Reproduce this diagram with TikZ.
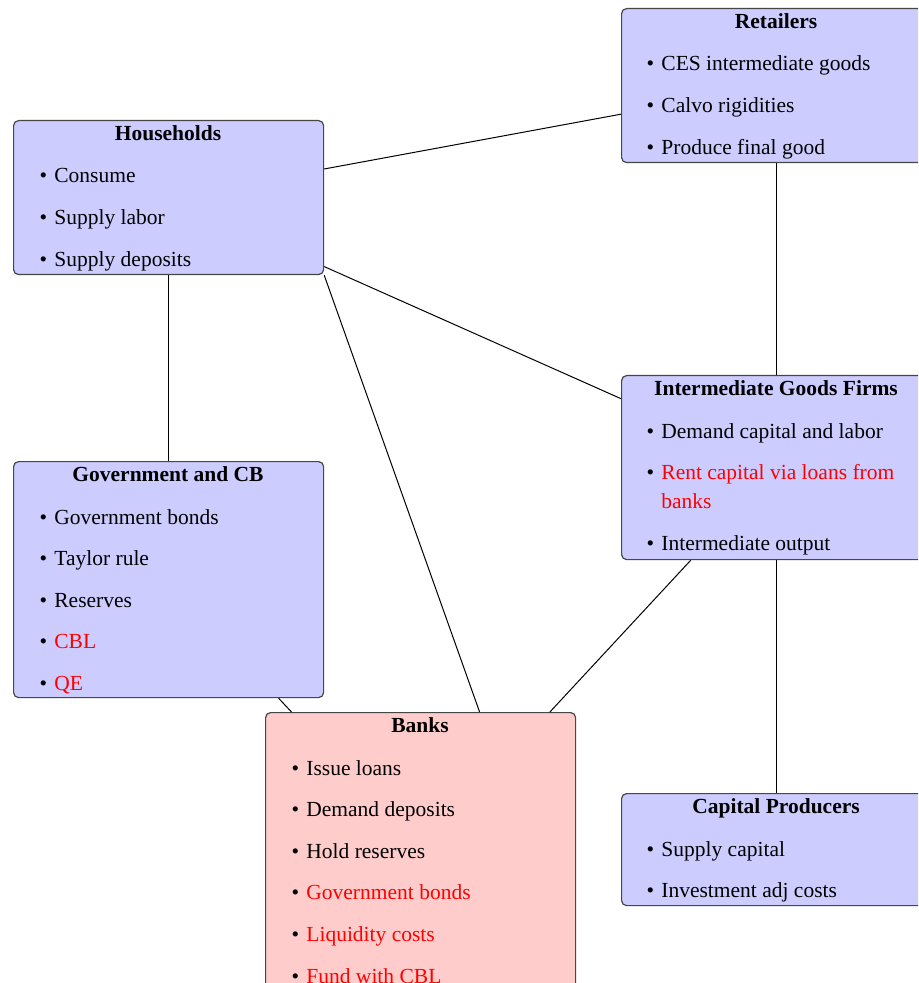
\documentclass[tikz,border=0pt]{standalone}
\usepackage{fontspec}
\setmainfont{Liberation Serif}
\definecolor{boxblue}{RGB}{204,204,255}
\definecolor{boxred}{RGB}{255,204,204}
\definecolor{edgegray}{RGB}{70,70,70}
\newcommand{\bul}{\llap{\textcolor{black}{\textbullet}\hspace{3.6pt}}}
\tikzset{
  box/.style={draw=edgegray, line width=0.6pt, rounded corners=2.5pt, fill=boxblue,
    minimum width=155pt, inner sep=0pt, anchor=north west},
  bankbox/.style={box, fill=boxred},
  ttl/.style={font=\fontsize{10.75}{13}\selectfont\bfseries, inner sep=0pt, anchor=base},
  itm/.style={font=\fontsize{10.75}{13}\selectfont, inner sep=0pt, anchor=base west},
  hot/.style={itm, text=red},
  link/.style={draw=black, line width=0.5pt}
}
\begin{document}
\begin{tikzpicture}[x=0.5pt,y=-0.5pt]
\useasboundingbox (0,0) rectangle (918,983);
\clip (0,0) rectangle (918,983);
% boxes
\node[box, minimum height=77pt] (hh) at (13,120) {};
\node[box, minimum height=77pt] (ret) at (621,8) {};
\node[box, minimum height=118pt] (gov) at (13,461) {};
\node[box, minimum height=92pt] (igf) at (621,375) {};
\node[bankbox, minimum height=139pt] (banks) at (265,712) {};
\node[box, minimum height=56pt] (cap) at (621,793) {};
% connectors
\draw[link] (hh) -- (ret);
\draw[link] (hh) -- (gov);
\draw[link] (hh) -- (igf);
\draw[link] (hh.south east) -- ([xshift=29.5pt]banks.north);
\draw[link] (ret) -- (igf);
\draw[link] (gov) -- (banks);
\draw[link] (igf) -- (banks);
\draw[link] (igf) -- (cap);
% Households
\node[ttl] (hht) at (168,140.5) {Households};
\node[itm] (hh1) at (54,183) {\bul Consume};
\node[itm] (hh2) at (54,224.6) {\bul Supply labor};
\node[itm] (hh3) at (54,266.2) {\bul Supply deposits};
% Retailers
\node[ttl] (rett) at (776,28.5) {Retailers};
\node[itm] (ret1) at (661,71) {\bul CES intermediate goods};
\node[itm] (ret2) at (661,112.6) {\bul Calvo rigidities};
\node[itm] (ret3) at (661,154.2) {\bul Produce final good};
% Government and CB
\node[ttl] (govt) at (168,481.5) {Government and CB};
\node[itm] (gov1) at (54,524) {\bul Government bonds};
\node[itm] (gov2) at (54,565.6) {\bul Taylor rule};
\node[itm] (gov3) at (54,607.2) {\bul Reserves};
\node[hot] (gov4) at (54,648.8) {\bul CBL};
\node[hot] (gov5) at (54,690.4) {\bul QE};
% Intermediate Goods Firms
\node[ttl] (igft) at (776,395.5) {Intermediate Goods Firms};
\node[itm] (igf1) at (661,438) {\bul Demand capital and labor};
\node[hot] (igf2) at (661,479.6) {\bul Rent capital via loans from};
\node[hot] (igf2b) at (661,508.4) {banks};
\node[itm] (igf3) at (661,550.2) {\bul Intermediate output};
% Banks
\node[ttl] (bankst) at (420,732.5) {Banks};
\node[itm] (b1) at (306,775) {\bul Issue loans};
\node[itm] (b2) at (306,816.6) {\bul Demand deposits};
\node[itm] (b3) at (306,858.2) {\bul Hold reserves};
\node[hot] (b4) at (306,899.8) {\bul Government bonds};
\node[hot] (b5) at (306,941.4) {\bul Liquidity costs};
\node[hot] (b6) at (306,983) {\bul Fund with CBL};
% Capital Producers
\node[ttl] (capt) at (776,813.5) {Capital Producers};
\node[itm] (cap1) at (661,856) {\bul Supply capital};
\node[itm] (cap2) at (661,897.6) {\bul Investment adj costs};
\end{tikzpicture}
\end{document}
